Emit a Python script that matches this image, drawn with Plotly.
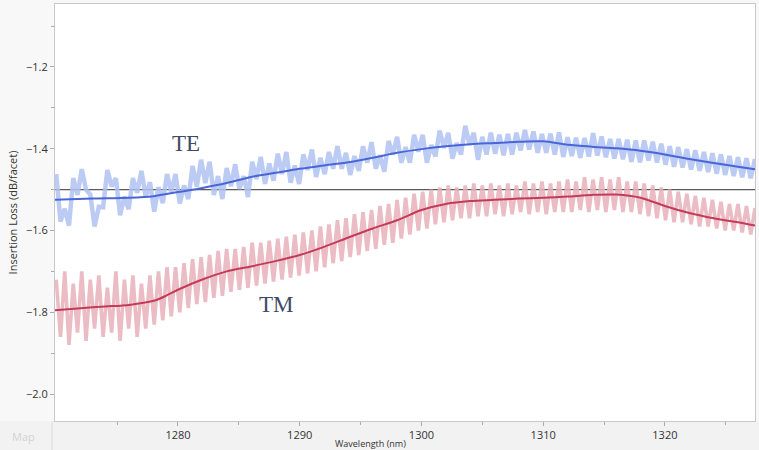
import plotly.graph_objects as go

# Wavelength sampling grid (nm) for the raw measured traces
WL = [1270.0, 1270.35, 1270.7, 1271.05, 1271.4, 1271.75, 1272.1, 1272.45, 1272.8, 1273.15,
      1273.5, 1273.85, 1274.2, 1274.55, 1274.9, 1275.25, 1275.6, 1275.95, 1276.3, 1276.65,
      1277.0, 1277.35, 1277.7, 1278.05, 1278.4, 1278.75, 1279.1, 1279.45, 1279.8, 1280.15,
      1280.5, 1280.85, 1281.2, 1281.55, 1281.9, 1282.25, 1282.6, 1282.95, 1283.3, 1283.65,
      1284.0, 1284.35, 1284.7, 1285.05, 1285.4, 1285.75, 1286.1, 1286.45, 1286.8, 1287.15,
      1287.5, 1287.85, 1288.2, 1288.55, 1288.9, 1289.25, 1289.6, 1289.95, 1290.3, 1290.65,
      1291.0, 1291.35, 1291.7, 1292.05, 1292.4, 1292.75, 1293.1, 1293.45, 1293.8, 1294.15,
      1294.5, 1294.85, 1295.2, 1295.55, 1295.9, 1296.25, 1296.6, 1296.95, 1297.3, 1297.65,
      1298.0, 1298.35, 1298.7, 1299.05, 1299.4, 1299.75, 1300.1, 1300.45, 1300.8, 1301.15,
      1301.5, 1301.85, 1302.2, 1302.55, 1302.9, 1303.25, 1303.6, 1303.95, 1304.3, 1304.65,
      1305.0, 1305.35, 1305.7, 1306.05, 1306.4, 1306.75, 1307.1, 1307.45, 1307.8, 1308.15,
      1308.5, 1308.85, 1309.2, 1309.55, 1309.9, 1310.25, 1310.6, 1310.95, 1311.3, 1311.65,
      1312.0, 1312.35, 1312.7, 1313.05, 1313.4, 1313.75, 1314.1, 1314.45, 1314.8, 1315.15,
      1315.5, 1315.85, 1316.2, 1316.55, 1316.9, 1317.25, 1317.6, 1317.95, 1318.3, 1318.65,
      1319.0, 1319.35, 1319.7, 1320.05, 1320.4, 1320.75, 1321.1, 1321.45, 1321.8, 1322.15,
      1322.5, 1322.85, 1323.2, 1323.55, 1323.9, 1324.25, 1324.6, 1324.95, 1325.3, 1325.65,
      1326.0, 1326.35, 1326.7, 1327.05, 1327.4]

# Raw TE insertion loss (dB/facet)
TE_RAW = [-1.462, -1.578, -1.547, -1.588, -1.472, -1.513, -1.450, -1.500, -1.512, -1.590,
          -1.542, -1.543, -1.452, -1.492, -1.472, -1.563, -1.517, -1.548, -1.472, -1.508,
          -1.454, -1.518, -1.482, -1.554, -1.494, -1.533, -1.462, -1.506, -1.462, -1.534,
          -1.490, -1.523, -1.442, -1.493, -1.427, -1.484, -1.432, -1.513, -1.467, -1.523,
          -1.447, -1.492, -1.438, -1.498, -1.467, -1.518, -1.432, -1.474, -1.420, -1.486,
          -1.436, -1.478, -1.412, -1.462, -1.408, -1.483, -1.441, -1.486, -1.414, -1.452,
          -1.402, -1.469, -1.422, -1.462, -1.408, -1.449, -1.394, -1.449, -1.410, -1.464,
          -1.418, -1.454, -1.394, -1.434, -1.384, -1.449, -1.416, -1.456, -1.381, -1.414,
          -1.371, -1.434, -1.396, -1.434, -1.366, -1.407, -1.366, -1.434, -1.391, -1.419,
          -1.356, -1.398, -1.361, -1.424, -1.386, -1.414, -1.344, -1.390, -1.361, -1.427,
          -1.371, -1.414, -1.361, -1.412, -1.366, -1.416, -1.364, -1.414, -1.361, -1.404,
          -1.354, -1.402, -1.358, -1.410, -1.364, -1.410, -1.363, -1.414, -1.360, -1.420,
          -1.372, -1.418, -1.373, -1.422, -1.374, -1.419, -1.362, -1.417, -1.370, -1.421,
          -1.376, -1.424, -1.376, -1.426, -1.378, -1.432, -1.380, -1.433, -1.380, -1.429,
          -1.383, -1.434, -1.388, -1.439, -1.394, -1.444, -1.396, -1.446, -1.401, -1.451,
          -1.404, -1.454, -1.408, -1.457, -1.411, -1.461, -1.414, -1.464, -1.418, -1.467,
          -1.421, -1.470, -1.423, -1.472, -1.425]

# Raw TM insertion loss (dB/facet)
TM_RAW = [-1.72, -1.86, -1.70, -1.88, -1.73, -1.85, -1.70, -1.87, -1.72, -1.84,
          -1.71, -1.86, -1.74, -1.85, -1.70, -1.87, -1.72, -1.84, -1.71, -1.86,
          -1.73, -1.84, -1.71, -1.83, -1.70, -1.82, -1.69, -1.81, -1.69, -1.80,
          -1.68, -1.79, -1.67, -1.78, -1.665, -1.775, -1.66, -1.765, -1.65, -1.76,
          -1.645, -1.75, -1.645, -1.745, -1.64, -1.74, -1.63, -1.735, -1.63, -1.73,
          -1.625, -1.725, -1.62, -1.72, -1.615, -1.715, -1.61, -1.71, -1.605, -1.705,
          -1.60, -1.70, -1.59, -1.69, -1.585, -1.68, -1.575, -1.675, -1.57, -1.665,
          -1.56, -1.66, -1.555, -1.65, -1.55, -1.645, -1.54, -1.635, -1.535, -1.63,
          -1.525, -1.62, -1.52, -1.61, -1.51, -1.60, -1.505, -1.595, -1.50, -1.585,
          -1.495, -1.58, -1.49, -1.575, -1.495, -1.57, -1.49, -1.57, -1.485, -1.565,
          -1.49, -1.565, -1.485, -1.56, -1.49, -1.565, -1.485, -1.56, -1.49, -1.555,
          -1.48, -1.56, -1.485, -1.555, -1.48, -1.56, -1.485, -1.555, -1.48, -1.555,
          -1.475, -1.555, -1.48, -1.55, -1.47, -1.555, -1.475, -1.55, -1.47, -1.555,
          -1.475, -1.55, -1.47, -1.555, -1.48, -1.555, -1.48, -1.56, -1.485, -1.565,
          -1.49, -1.57, -1.495, -1.575, -1.50, -1.58, -1.505, -1.58, -1.51, -1.585,
          -1.515, -1.59, -1.52, -1.59, -1.525, -1.595, -1.53, -1.60, -1.535, -1.60,
          -1.535, -1.605, -1.54, -1.61, -1.545]

# Smoothed fits
TE_FIT_WL = [1269.9, 1273, 1276, 1278, 1280, 1282, 1284, 1286, 1288, 1290, 1292, 1294, 1296, 1298,
             1300, 1302, 1304, 1306, 1308, 1310, 1312, 1314, 1316, 1318, 1320, 1322, 1324, 1326, 1327.4]
TE_FIT = [-1.525, -1.522, -1.52, -1.516, -1.506, -1.496, -1.484, -1.469, -1.459, -1.449, -1.441,
          -1.433, -1.422, -1.41, -1.401, -1.394, -1.389, -1.386, -1.383, -1.382, -1.39, -1.395,
          -1.399, -1.405, -1.414, -1.425, -1.435, -1.444, -1.45]

TM_FIT_WL = [1269.9, 1272, 1274, 1276, 1278, 1279, 1280, 1282, 1284, 1286, 1288, 1290, 1292, 1294,
             1296, 1298, 1300, 1302, 1304, 1306, 1308, 1310, 1312, 1314, 1316, 1318, 1320, 1322,
             1324, 1326, 1327.4]
TM_FIT = [-1.795, -1.79, -1.786, -1.782, -1.772, -1.76, -1.745, -1.72, -1.70, -1.688, -1.675,
          -1.66, -1.64, -1.617, -1.595, -1.575, -1.55, -1.535, -1.528, -1.525, -1.522, -1.52,
          -1.517, -1.513, -1.512, -1.52, -1.54, -1.557, -1.57, -1.58, -1.588]

REF_LEVEL = -1.5
X_RANGE = [1269.9, 1327.4]
Y_RANGE = [-2.066, -1.046]
X_TICKS = [1280, 1290, 1300, 1310, 1320]
Y_TICKS = [-2.0, -1.8, -1.6, -1.4, -1.2]

fig = go.Figure()

fig.add_trace(go.Scatter(x=X_RANGE, y=[REF_LEVEL, REF_LEVEL], mode="lines",
                         line=dict(color="#5a5a5a", width=1.2), hoverinfo="skip"))
fig.add_trace(go.Scatter(x=WL, y=TE_RAW, mode="lines",
                         line=dict(color="rgba(176,194,242,0.85)", width=4.5), hoverinfo="skip"))
fig.add_trace(go.Scatter(x=WL, y=TM_RAW, mode="lines",
                         line=dict(color="rgba(232,176,186,0.85)", width=3.6), hoverinfo="skip"))
fig.add_trace(go.Scatter(x=TE_FIT_WL, y=TE_FIT, mode="lines",
                         line=dict(color="#4a66d6", width=2, shape="spline", smoothing=0.8)))
fig.add_trace(go.Scatter(x=TM_FIT_WL, y=TM_FIT, mode="lines",
                         line=dict(color="#c23b58", width=2, shape="spline", smoothing=0.8)))

axis_font = dict(family="Open Sans, DejaVu Sans, sans-serif", size=11, color="#333333")

fig.update_xaxes(range=X_RANGE, tickvals=X_TICKS, ticks="outside", ticklen=4, tickcolor="#aaaaaa",
                 showgrid=False, zeroline=False, showline=True, linecolor="#c8c8c8", mirror=True,
                 tickfont=axis_font,
                 minor=dict(tickvals=[1275, 1285, 1295, 1305, 1315, 1325], ticks="outside",
                            ticklen=3, tickcolor="#aaaaaa"))
fig.update_yaxes(range=Y_RANGE, tickvals=Y_TICKS, tickformat=".1f", ticks="outside", ticklen=4,
                 tickcolor="#aaaaaa", showgrid=False, zeroline=False, showline=True,
                 linecolor="#c8c8c8", mirror=True, tickfont=axis_font,
                 title=dict(text="Insertion Loss (dB/facet)", font=axis_font, standoff=6),
                 minor=dict(tickvals=[-1.9, -1.7, -1.5, -1.3, -1.1], ticks="outside",
                            ticklen=3, tickcolor="#aaaaaa"))

fig.update_layout(
    width=759, height=450,
    margin=dict(l=55, r=4, t=4, b=29),
    paper_bgcolor="#f8f8f8", plot_bgcolor="white",
    showlegend=False,
    shapes=[dict(type="rect", xref="paper", yref="paper", x0=-0.1, x1=1.1, y0=-0.1, y1=0,
                 fillcolor="#f2f2f2", line=dict(width=0), layer="below"),
            dict(type="line", xref="paper", yref="paper", x0=-0.0043, x1=-0.0043, y0=-0.1, y1=0,
                 line=dict(color="#dddddd", width=1))],
    annotations=[
        dict(x=1280.7, y=-1.386, xref="x", yref="y", text="TE", showarrow=False,
             font=dict(family="Liberation Serif, Times New Roman, serif", size=23, color="#3e4a66")),
        dict(x=1288.1, y=-1.782, xref="x", yref="y", text="TM", showarrow=False,
             font=dict(family="Liberation Serif, Times New Roman, serif", size=23, color="#3e4a66")),
        dict(x=-0.045, y=-0.038, xref="paper", yref="paper", text="Map", showarrow=False,
             xanchor="center", yanchor="middle",
             font=dict(family="Open Sans, DejaVu Sans, sans-serif", size=11, color="#d2d2d2")),
        dict(x=0.45, y=-0.054, xref="paper", yref="paper", text="Wavelength (nm)", showarrow=False,
             yanchor="middle", font=dict(family="Open Sans, DejaVu Sans, sans-serif", size=9,
                                         color="#333333")),
    ],
)

fig.write_html("out.html")
